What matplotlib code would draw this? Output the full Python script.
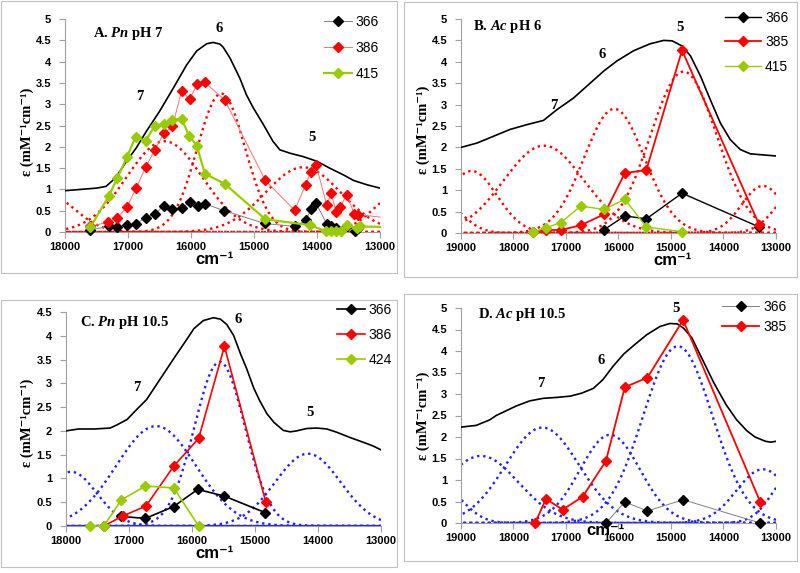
import numpy as np
import matplotlib
matplotlib.use("Agg")
import matplotlib.pyplot as plt
from matplotlib.patches import Rectangle
from matplotlib.lines import Line2D
from matplotlib.ticker import FuncFormatter, MultipleLocator

plt.rcParams['font.family'] = ['Liberation Sans', 'DejaVu Sans']
plt.rcParams['mathtext.fontset'] = 'custom'
plt.rcParams['mathtext.it'] = 'Liberation Serif:italic:bold'
plt.rcParams['mathtext.rm'] = 'Liberation Serif:bold'

SERIF = ['Liberation Serif', 'DejaVu Serif']
RED = '#ff0000'
GREEN = '#99cc00'
BLUE = '#1f1fff'

# ---------------- panel A : Pn pH 7 ----------------
a_spec_x = [18000, 17750, 17500, 17350, 17250, 17130, 17025, 16870, 16710, 16500,
            16280, 16070, 15910, 15750, 15650, 15540, 15490, 15380, 15225, 15120,
            15010, 14850, 14700, 14590, 14430, 14220, 14000, 13800, 13580, 13420,
            13210, 13000]
a_spec_y = [0.97, 1.00, 1.03, 1.07, 1.20, 1.42, 1.66, 1.97, 2.36, 2.83,
            3.38, 3.92, 4.25, 4.42, 4.45, 4.41, 4.34, 4.08, 3.61, 3.22,
            2.91, 2.52, 2.13, 1.93, 1.85, 1.77, 1.66, 1.50, 1.34, 1.21,
            1.11, 1.03]
a366_x = [17600, 17305, 17170, 17010, 16870, 16720, 16575, 16430, 16295, 16145,
          16020, 15890, 15780, 15470, 14830, 14355, 14180, 14090, 14015, 13845,
          13775, 13695, 13530, 13400, 13355]
a366_y = [0.05, 0.13, 0.11, 0.16, 0.19, 0.34, 0.42, 0.62, 0.54, 0.56,
          0.70, 0.62, 0.66, 0.50, 0.20, 0.13, 0.27, 0.55, 0.68, 0.19,
          0.13, 0.09, 0.15, 0.03, 0.10]
a386_x = [17600, 17320, 17170, 17015, 16870, 16720, 16575, 16430, 16295, 16150,
          16020, 15900, 15780, 15465, 14820, 14355, 14180, 14095, 14015, 13845,
          13775, 13700, 13635, 13530, 13405, 13345, 13000]
a386_y = [0.13, 0.23, 0.33, 0.59, 1.03, 1.52, 1.93, 2.32, 2.48, 3.30,
          3.12, 3.48, 3.51, 3.10, 1.21, 0.51, 1.11, 1.42, 1.58, 0.63,
          0.91, 0.48, 0.58, 0.87, 0.42, 0.41, 0.35]
a415_x = [17600, 17305, 17170, 17015, 16880, 16720, 16575, 16430, 16295, 16150,
          16030, 15910, 15780, 15465, 14820, 14110, 13860, 13780, 13700, 13620,
          13530, 13370, 13320, 13000]
a415_y = [0.11, 0.84, 1.27, 1.76, 2.24, 2.13, 2.50, 2.53, 2.63, 2.66,
          2.26, 2.03, 1.37, 1.13, 0.30, 0.16, 0.02, 0.03, 0.03, 0.02,
          0.16, 0.09, 0.13, 0.12]
a_band_c = [18250, 16420, 15520, 14220, 12700]
a_band_h = [0.85, 2.13, 3.25, 1.52, 0.90]
a_band_w = [420, 600, 380, 600, 400]

# ---------------- panel B : Ac pH 6 ----------------
b_spec_x = [19000, 18700, 18500, 18065, 17750, 17430, 17175, 16860, 16540, 16285,
            16030, 15710, 15400, 15140, 14980, 14790, 14630, 14440, 14250, 14060,
            13870, 13680, 13490, 13300, 13000]
b_spec_y = [2.00, 2.10, 2.20, 2.42, 2.53, 2.63, 2.88, 3.15, 3.50, 3.78,
            4.02, 4.26, 4.42, 4.50, 4.49, 4.37, 4.14, 3.67, 3.11, 2.57,
            2.18, 1.95, 1.85, 1.83, 1.80]
b366_x = [16270, 15880, 15470, 14790, 13320]
b366_y = [0.08, 0.40, 0.33, 0.93, 0.14]
b385_x = [17630, 17390, 17100, 16720, 16270, 15880, 15470, 14790, 13320]
b385_y = [0.03, 0.07, 0.07, 0.18, 0.44, 1.40, 1.47, 4.27, 0.19]
b415_x = [17630, 17390, 17100, 16720, 16270, 15880, 15470, 14790]
b415_y = [0.02, 0.12, 0.24, 0.63, 0.55, 0.79, 0.14, 0.03]
b_band_c = [19350, 18800, 17420, 16080, 14760, 13250, 12600]
b_band_h = [0.70, 1.45, 2.04, 2.90, 3.77, 1.10, 1.00]
b_band_w = [380, 485, 760, 575, 630, 400, 400]

# ---------------- panel C : Pn pH 10.5 ----------------
c_spec_x = [18000, 17800, 17550, 17300, 17200, 17030, 16900, 16720, 16600, 16400,
            16290, 16080, 15970, 15820, 15660, 15550, 15450, 15340, 15230, 15130,
            15020, 14920, 14810, 14700, 14550, 14440, 14340, 14180, 14020, 13860,
            13700, 13490, 13280, 13120, 13000]
c_spec_y = [2.00, 2.04, 2.04, 2.06, 2.12, 2.24, 2.42, 2.66, 2.90, 3.30,
            3.52, 3.93, 4.15, 4.32, 4.38, 4.35, 4.24, 4.01, 3.62, 3.30,
            2.90, 2.62, 2.36, 2.18, 2.01, 1.98, 2.00, 2.05, 2.06, 2.04,
            1.97, 1.86, 1.76, 1.68, 1.60]
c366_x = [17120, 16740, 16290, 15910, 15490, 14835]
c366_y = [0.20, 0.16, 0.41, 0.77, 0.63, 0.28]
c386_x = [17400, 17100, 16730, 16290, 15895, 15485, 14830]
c386_y = [0.0, 0.21, 0.42, 1.26, 1.84, 3.78, 0.51]
c424_x = [17620, 17400, 17120, 16740, 16290, 15895]
c424_y = [0.0, 0.0, 0.55, 0.84, 0.80, 0.0]
c_band_c = [17920, 16570, 15560, 14160]
c_band_h = [1.14, 2.10, 3.45, 1.52]
c_band_w = [410, 630, 400, 520]

# ---------------- panel D : Ac pH 10.5 ----------------
d_spec_x = [19000, 18710, 18450, 18330, 17950, 17690, 17430, 17180, 16920, 16700,
            16480, 16300, 16100, 15900, 15700, 15460, 15210, 15020, 14880, 14760,
            14600, 14420, 14180, 13950, 13750, 13560, 13400, 13200, 13100, 13000]
d_spec_y = [2.23, 2.27, 2.40, 2.50, 2.72, 2.84, 2.90, 2.92, 2.95, 3.02,
            3.13, 3.33, 3.65, 3.93, 4.14, 4.38, 4.57, 4.64, 4.63, 4.53,
            4.30, 3.85, 3.25, 2.75, 2.40, 2.15, 2.00, 1.90, 1.88, 1.90]
d366_x = [16240, 15880, 15450, 14770, 13300]
d366_y = [0.0, 0.49, 0.28, 0.54, 0.0]
d385_x = [17590, 17380, 17065, 16685, 16240, 15880, 15450, 14770, 13300]
d385_y = [0.0, 0.56, 0.31, 0.61, 1.44, 3.16, 3.38, 4.72, 0.49]
d_band_c = [19350, 18620, 17450, 16160, 14870, 13250, 12650]
d_band_h = [0.80, 1.56, 2.22, 2.05, 4.11, 1.25, 1.20]
d_band_w = [400, 715, 700, 570, 660, 500, 400]


fig = plt.figure(figsize=(8, 5.73), dpi=100)
W, H = 800.0, 573.0


def px_axes(left, top, right, bottom):
    return fig.add_axes([left / W, 1 - bottom / H, (right - left) / W, (bottom - top) / H])


def setup(ax, xmax, ymax):
    ax.set_xlim(xmax, 13000)
    ax.set_ylim(0, ymax)
    ax.xaxis.set_major_locator(MultipleLocator(1000))
    ax.yaxis.set_major_locator(MultipleLocator(0.5))
    ax.yaxis.set_major_formatter(FuncFormatter(lambda v, p: f'{v:g}'))
    for s in ['top', 'right']:
        ax.spines[s].set_visible(False)
    for s in ['left', 'bottom']:
        ax.spines[s].set_color('#a0a0a0')
        ax.spines[s].set_linewidth(0.8)
    ax.tick_params(axis='both', direction='out', length=4, color='#a0a0a0', width=0.8)
    ax.tick_params(axis='x', pad=3)
    ax.tick_params(axis='y', pad=6)
    for lab in ax.get_xticklabels() + ax.get_yticklabels():
        lab.set_fontsize(8)
        lab.set_fontweight('bold')


def bands(ax, xmax, centers, heights, widths, color):
    xs = np.linspace(13000, xmax, 500)
    for c, h, w in zip(centers, heights, widths):
        ax.plot(xs, h * np.exp(-0.5 * ((xs - c) / w) ** 2), color=color,
                lw=1.7, ls=(0, (1.0, 1.6)), zorder=2)


def series(ax, x, y, lc, mc, lw, label, last_marker=True):
    mk = None if last_marker else slice(0, len(x) - 1)
    ax.plot(x, y, color=lc, lw=lw, marker='D', ms=5.4, mfc=mc, mec=mc,
            markevery=mk, zorder=4, clip_on=False)
    return Line2D([], [], color=lc, lw=lw, marker='D', ms=5.4, mfc=mc, mec=mc), label


def labels(ax, title, xl, yl, nums):
    ax.text(title[1], title[2], title[0], transform=ax.transAxes, fontsize=10.5,
            fontweight='bold', family=SERIF, va='center', ha='left', zorder=6)
    ax.set_xlabel('cm⁻¹', fontsize=12, fontweight='bold')
    ax.xaxis.set_label_coords(xl[0], xl[1])
    ax.set_ylabel('ε (mM⁻¹cm⁻¹)', fontsize=10.5, fontweight='bold', family=SERIF)
    ax.yaxis.set_label_coords(yl[0], yl[1])
    for t, x, y in nums:
        ax.text(x, y, t, fontsize=10.5, fontweight='bold', family=SERIF,
                ha='center', va='center', zorder=6)


def legend(ax, hl, x, y, hlen, spacing):
    lg = ax.legend([h for h, l in hl], [l for h, l in hl], loc='upper left',
                   bbox_to_anchor=(x / W, 1 - y / H), bbox_transform=fig.transFigure,
                   fontsize=10, handlelength=hlen, handletextpad=0.3,
                   labelspacing=spacing, borderpad=0.2, borderaxespad=0,
                   frameon=True, fancybox=False, facecolor='white', edgecolor='none',
                   framealpha=1)
    lg.set_zorder(10)


# panel frames
for (l, t, r, b) in [(1, 1, 397, 273), (404, 2, 797, 277), (1, 300, 397, 567), (404, 294, 797, 561)]:
    fig.add_artist(Rectangle((l / W, 1 - b / H), (r - l) / W, (b - t) / H,
                             transform=fig.transFigure, fill=False,
                             edgecolor='#c0c0c0', lw=0.8))

# ---- A ----
axA = px_axes(65, 19, 380, 232)
bands(axA, 18000, a_band_c, a_band_h, a_band_w, RED)
axA.plot(a_spec_x, a_spec_y, color='black', lw=1.2, zorder=3)
hA = [series(axA, a366_x, a366_y, '#808080', 'black', 0.7, '366'),
      series(axA, a386_x, a386_y, '#ff7070', RED, 0.7, '386', last_marker=False),
      series(axA, a415_x, a415_y, GREEN, GREEN, 1.6, '415', last_marker=False)]
setup(axA, 18000, 5)
labels(axA, ('A. $Pn$ pH 7', 0.089, 0.934), (0.476, -0.095), (-0.1, 0.47),
       [('6', 15550, 4.78), ('7', 16815, 3.18), ('5', 14085, 2.22)])
legend(axA, hA, 321, 12, 2.0, 0.88)

# ---- B ----
axB = px_axes(461, 19, 776, 233)
bands(axB, 19000, b_band_c, b_band_h, b_band_w, RED)
axB.plot(b_spec_x, b_spec_y, color='black', lw=1.2, zorder=3)
hB = [series(axB, b366_x, b366_y, 'black', 'black', 1.0, '366'),
      series(axB, b385_x, b385_y, RED, RED, 1.3, '385'),
      series(axB, b415_x, b415_y, GREEN, GREEN, 1.0, '415')]
setup(axB, 19000, 5)
labels(axB, ('B. $Ac$ pH 6', 0.038, 0.963), (0.67, -0.095), (-0.097, 0.48),
       [('5', 14836, 4.81), ('6', 16305, 4.16), ('7', 17239, 2.99)])
legend(axB, hB, 722, 8, 2.6, 0.75)

# ---- C ----
axC = px_axes(66, 312, 381, 526)
bands(axC, 18000, c_band_c, c_band_h, c_band_w, BLUE)
axC.axhline(0, color=BLUE, lw=1.6, zorder=2.5)
axC.plot(c_spec_x, c_spec_y, color='black', lw=1.2, zorder=3)
hC = [series(axC, c366_x, c366_y, 'black', 'black', 1.2, '366'),
      series(axC, c386_x, c386_y, RED, RED, 1.2, '386'),
      series(axC, c424_x, c424_y, GREEN, GREEN, 1.2, '424')]
setup(axC, 18000, 4.5)
labels(axC, ('C. $Pn$ pH 10.5', 0.044, 0.949), (0.47, -0.095), (-0.1, 0.48),
       [('6', 15262, 4.34), ('7', 16874, 2.91), ('5', 14126, 2.38)])
legend(axC, hC, 334, 300, 2.0, 0.8)

# ---- D ----
axD = px_axes(461, 308, 776, 523)
bands(axD, 19000, d_band_c, d_band_h, d_band_w, BLUE)
axD.plot(d_spec_x, d_spec_y, color='black', lw=1.2, zorder=3)
hD = [series(axD, d366_x, d366_y, '#808080', 'black', 0.7, '366'),
      series(axD, d385_x, d385_y, RED, RED, 1.3, '385')]
setup(axD, 19000, 5)
labels(axD, ('D. $Ac$ pH 10.5', 0.054, 0.972), (0.46, 0.0), (-0.097, 0.50),
       [('5', 14905, 4.98), ('6', 16340, 3.79), ('7', 17476, 3.25)])
legend(axD, hD, 719, 297, 2.7, 0.45)

fig.savefig('out.png', dpi=100, facecolor='white')
